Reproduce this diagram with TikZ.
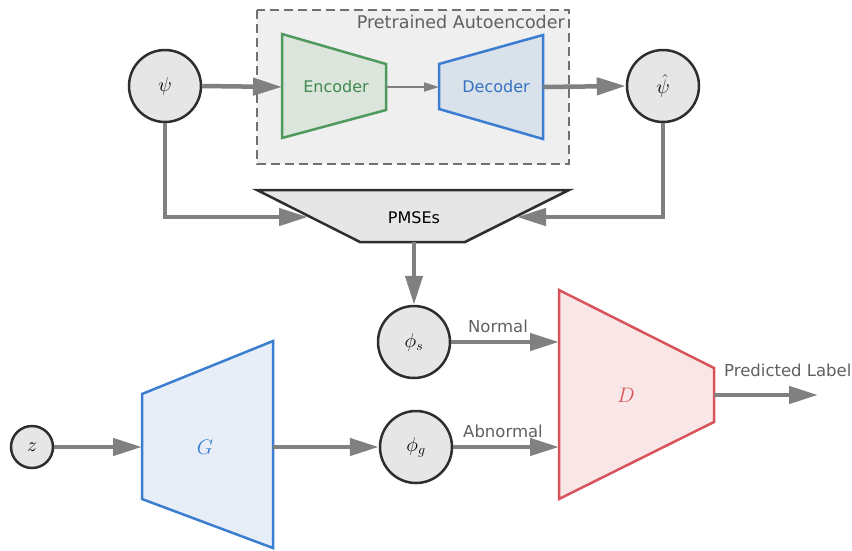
\RequirePackage{fix-cm}
\documentclass[tikz,border=0pt]{standalone}
\usepackage{fontspec}
\newfontfamily\labelfont{DejaVu Sans}
\usetikzlibrary{arrows.meta}
\definecolor{arrowgray}{HTML}{808080}
\definecolor{circfill}{HTML}{E6E6E6}
\definecolor{circdraw}{HTML}{2E2E2E}
\definecolor{boxfill}{HTML}{EFEFEF}
\definecolor{boxdraw}{HTML}{707070}
\definecolor{encdraw}{HTML}{4E9A5E}
\definecolor{encfill}{HTML}{DCE5DC}
\definecolor{enctext}{HTML}{3F8A4F}
\definecolor{decdraw}{HTML}{3B7DD0}
\definecolor{decfill}{HTML}{D9E1EB}
\definecolor{dectext}{HTML}{3672C0}
\definecolor{gfill}{HTML}{E7EEF8}
\definecolor{ddraw}{HTML}{D9545A}
\definecolor{dfill}{HTML}{F9E7E7}
\definecolor{labgray}{HTML}{606060}
\begin{document}
\begin{tikzpicture}[x=1pt,y=-1pt,
  var/.style={circle,fill=circfill,draw=circdraw,line width=2.5pt,minimum size=72pt,inner sep=0pt,font=\fontsize{20}{22}\selectfont},
  smallvar/.style={var,minimum size=42pt},
  flow/.style={draw=arrowgray,line width=4.5pt,-{Triangle[length=29pt,width=17pt]}},
  thinflow/.style={draw=arrowgray,line width=1.8pt,-{Triangle[length=15pt,width=9pt]}},
  sanslabel/.style={font=\labelfont\fontsize{16}{18}\selectfont,inner sep=0pt},
  edgelabel/.style={font=\labelfont\fontsize{16.5}{18}\selectfont,inner sep=0pt,text=labgray}
]
\useasboundingbox (0,0) rectangle (852,550);

% Pretrained autoencoder box
\draw[fill=boxfill,draw=boxdraw,line width=2pt,dash pattern=on 9pt off 5pt] (257,10) rectangle (569,164);
\node[font=\labelfont\fontsize{17.5}{19}\selectfont,inner sep=0pt,text=labgray,anchor=east] (aelabel) at (565,22) {Pretrained Autoencoder};

% Encoder
\draw[fill=encfill,draw=encdraw,line width=2.5pt] (282,34) -- (386,64) -- (386,110) -- (282,138) -- cycle;
\node[sanslabel,text=enctext] (enc) at (336,87) {Encoder};
\coordinate (encin) at (282,87);
\coordinate (encout) at (386,87);

% Decoder
\draw[fill=decfill,draw=decdraw,line width=2.5pt] (439,64) -- (543,35) -- (543,139) -- (439,109) -- cycle;
\node[sanslabel,text=dectext] (dec) at (496,87) {Decoder};
\coordinate (decin) at (439,87);
\coordinate (decout) at (543,87);

% psi nodes
\node[var] (psi) at (165,86) {$\psi$};
\node[var] (psihat) at (663,86) {$\hat{\psi}$};

% PMSEs
\draw[fill=circfill,draw=circdraw,line width=2.5pt] (257,190) -- (569,190) -- (465,242) -- (360,242) -- cycle;
\node[sanslabel,text=black] (pmse) at (414,218) {PMSEs};
\coordinate (pmsel) at (308,217);
\coordinate (pmser) at (517,217);
\coordinate (pmseb) at (414,242);

% phi nodes
\node[var] (phis) at (414,342) {$\phi_s$};
\node[var] (phig) at (416,447) {$\phi_g$};
\node[smallvar] (z) at (32,447) {$z$};

% Generator
\draw[fill=gfill,draw=decdraw,line width=2.5pt] (142,394) -- (273,341) -- (273,548) -- (142,499) -- cycle;
\node[text=decdraw,font=\fontsize{21}{23}\selectfont] (G) at (205,447) {$G$};
\coordinate (gin) at (142,447);
\coordinate (gout) at (273,447);

% Discriminator
\draw[fill=dfill,draw=ddraw,line width=2.5pt] (559,290) -- (714,368) -- (714,422) -- (559,499) -- cycle;
\node[text=ddraw,font=\fontsize{21}{23}\selectfont] (D) at (626,395) {$D$};
\coordinate (dins) at (559,342);
\coordinate (ding) at (559,447);
\coordinate (dout) at (714,395);
\coordinate (predend) at (818,395);

% connectors
\draw[flow] (psi.east) -- (encin);
\draw[thinflow] (encout) -- (decin);
\draw[flow] (decout) -- (psihat.west);
\draw[flow] (psi.south) |- (pmsel);
\draw[flow] (psihat.south) |- (pmser);
\draw[flow] (pmseb) -- (phis.north);
\draw[flow] (z.east) -- (gin);
\draw[flow] (gout) -- (phig.west);
\draw[flow] (phis.east) -- (dins);
\draw[flow] (phig.east) -- (ding);
\draw[flow] (dout) -- (predend);

% edge labels
\node[edgelabel] (normal) at (498,326) {Normal};
\node[edgelabel] (abnormal) at (503,431) {Abnormal};
\node[edgelabel,anchor=west] (pred) at (724,370) {Predicted Label};
\end{tikzpicture}
\end{document}
